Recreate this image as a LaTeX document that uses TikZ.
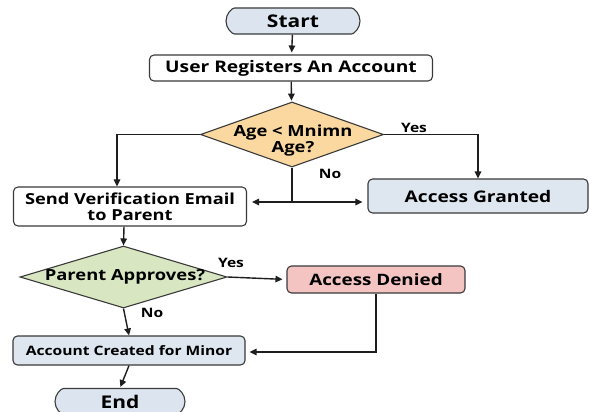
\documentclass[tikz,border=0pt]{standalone}
\usepackage{fontspec}
\setmainfont{Open Sans}[FakeStretch=1.2]
\usetikzlibrary{shapes.geometric,shapes.misc,arrows.meta}
\definecolor{termfill}{HTML}{DCE5EF}
\definecolor{okfill}{HTML}{DEE6F0}
\definecolor{agefill}{HTML}{FAD8A0}
\definecolor{parentfill}{HTML}{D8E6C2}
\definecolor{deniedfill}{HTML}{F3C4C2}
\definecolor{boxline}{HTML}{3A3A3A}
\definecolor{linecol}{HTML}{1E1E1E}
\begin{document}
\begin{tikzpicture}[x=1pt,y=-1pt,
    box/.style={draw=boxline, line width=1.1pt, rounded corners=4.5pt, inner sep=0pt,
      align=center, font=\bfseries\fontsize{16}{18}\selectfont},
    term/.style={box, rounded rectangle, font=\bfseries\fontsize{17.5}{19}\selectfont},
    decision/.style={diamond, draw=boxline, line width=1.1pt, inner sep=0pt},
    dtext/.style={align=center, font=\bfseries\fontsize{15.3}{17}\selectfont},
    flow/.style={line width=1.4pt, draw=linecol, -{Triangle[length=7pt,width=6.5pt]}},
    lbl/.style={font=\bfseries\fontsize{13}{15}\selectfont}]
    \fill[white] (0,0) rectangle (589,412);
    \useasboundingbox (0,0) rectangle (589,412);
    % shapes
    \node[term, fill=termfill, minimum width=134pt, minimum height=26pt] (start) at (293,21) {Start};
    \node[box, fill=white, minimum width=283pt, minimum height=26pt] (reg) at (291,68) {User Registers An Account};
    \node[decision, fill=agefill, minimum width=183pt, minimum height=65pt] (age) at (292,134.5) {};
    \node[dtext] (agetxt) at (293,141) {Age < Mnimn\\[-1pt]Age?};
    \node[box, fill=white, minimum width=233pt, minimum height=39pt,
      font=\bfseries\fontsize{15.2}{17}\selectfont] (send) at (130,206.5) {Send Verification Email\\[-1pt]to Parent};
    \node[box, fill=okfill, minimum width=220pt, minimum height=34pt] (granted) at (478,196) {Access Granted};
    \node[decision, fill=parentfill, minimum width=207pt, minimum height=62pt] (parent) at (123.5,277) {};
    \node[dtext] (parenttxt) at (125,277) {Parent Approves?};
    \node[box, fill=deniedfill, minimum width=178pt, minimum height=27pt,
      font=\bfseries\fontsize{15.7}{17}\selectfont] (denied) at (376,279.5) {Access Denied};
    \node[box, fill=okfill, minimum width=232pt, minimum height=29pt,
      font=\bfseries\fontsize{13}{15}\selectfont] (account) at (129,350.5) {Account Created for Minor};
    \node[term, fill=termfill, minimum width=130pt, minimum height=26pt] (end) at (120,401.5) {End};
    \coordinate (split) at (292,202);
    % connectors
    \draw[flow, shorten >=2pt] (start) -- (reg);
    \draw[flow, shorten >=1pt] (reg) -- (age);
    \draw[flow] (age.west) -| ([xshift=-13pt]send.north);
    \draw[flow] (age.east) -| (granted.north);
    \draw[line width=1.4pt, draw=linecol] (age.south) -- (split);
    \draw[flow, shorten >=5pt] (split) -- (split -| send.east);
    \draw[flow, shorten >=5pt] (split) -- (split -| granted.west);
    \draw[flow] ([xshift=-6pt]send.south) -- (parent.north);
    \draw[flow, shorten >=4pt] (parent.east) -- (denied.west);
    \draw[flow] (parent.south) -- (account.north);
    \draw[flow, shorten >=4pt] (denied.south) |- ([yshift=-1.5pt]account.east);
    \draw[flow, shorten >=1pt] (account.south) -- (end.north);
    % labels
    \node[lbl] (yes1) at (414,128) {Yes};
    \node[lbl] (no1) at (330,174) {No};
    \node[lbl] (yes2) at (231,263) {Yes};
    \node[lbl] (no2) at (152,313) {No};
\end{tikzpicture}
\end{document}
